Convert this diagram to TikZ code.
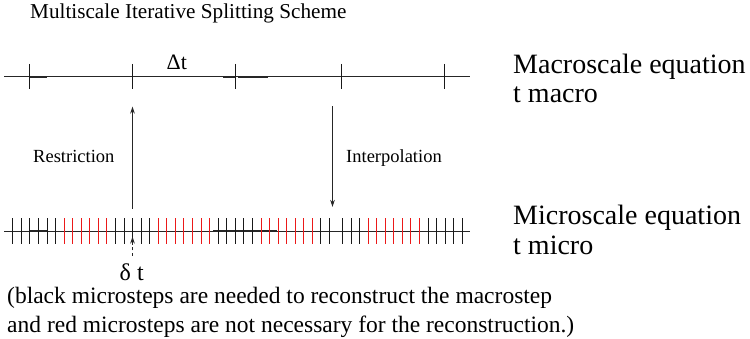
\documentclass[tikz,border=0pt]{standalone}
\usepackage{fontspec}
\setmainfont{Liberation Serif}
\usetikzlibrary{arrows.meta}
\definecolor{tickred}{RGB}{235,25,25}
\tikzset{
  axisline/.style={line width=0.9pt, black!85},
  thickseg/.style={line width=1.8pt, black!85},
  ticklineb/.style={line width=1pt, black!90},
  tickliner/.style={line width=1.5pt, tickred},
  txt/.style={inner sep=0pt, anchor=base west},
  arr/.style={line width=0.9pt, black!85, -{Stealth[length=7pt,width=4.5pt]}},
}
\begin{document}
\begin{tikzpicture}[x=1pt,y=-1pt]
\useasboundingbox (0,0) rectangle (750,339);
% title
\node[txt, font=\fontsize{21.2}{24}\selectfont] (title) at (30,18.5) {Multiscale Iterative Splitting Scheme};
% macro line
\coordinate (macL) at (4,76.7);
\coordinate (macR) at (470,76.7);
\draw[axisline] (macL) -- (macR);
\draw[thickseg] (29.3,76.7) -- (46.5,76.7);
\draw[thickseg] (223,76.7) -- (235,76.7);
\draw[thickseg] (238,76.7) -- (268,76.7);
\foreach \x in {29.5,132.5,235.5,341.5,444.5}
  \draw[ticklineb] (\x,64) -- (\x,89);
\node[txt, font=\fontsize{22}{24}\selectfont] (Dt) at (166.5,69.3) {Δt};
% micro line
\coordinate (micL) at (4,231);
\coordinate (micR) at (470,231);
\draw[axisline] (micL) -- (micR);
\draw[thickseg] (29.3,231) -- (46.5,231);
\draw[thickseg] (213,231) -- (277,231);
\foreach \i in {0,1,2,3,4,5,12,13,14,15,16,24,25,26,27,28,36,37}
  \draw[ticklineb] ({round(12.3+8.56*\i)+0.5},218.3) -- ({round(12.3+8.56*\i)+0.5},244.3);
\foreach \i in {6,7,8,9,10,11,17,18,19,20,21,22,23,29,30,31,32,33,34,35}
  \draw[tickliner] ({round(12.3+8.56*\i)+0.5},218.3) -- ({round(12.3+8.56*\i)+0.5},244.3);
\foreach \j in {0,1,2,10,11,12,13,14}
  \draw[ticklineb] ({round(342+8.55*\j)+0.5},218.3) -- ({round(342+8.55*\j)+0.5},244.3);
\foreach \j in {3,4,5,6,7,8,9}
  \draw[tickliner] ({round(342+8.55*\j)+0.5},218.3) -- ({round(342+8.55*\j)+0.5},244.3);
% right labels
\node[txt, font=\fontsize{28}{30}\selectfont] (macro1) at (513,73.3) {Macroscale equation};
\node[txt, font=\fontsize{28}{30}\selectfont] (macro2) at (513,103) {t macro};
\node[txt, font=\fontsize{28}{30}\selectfont] (micro1) at (513,225) {Microscale equation};
\node[txt, font=\fontsize{28}{30}\selectfont] (micro2) at (513,255) {t micro};
% arrows
\coordinate (rS) at (132.5,209);
\coordinate (rE) at (132.5,106.5);
\draw[arr] (rS) -- (rE);
\coordinate (iS) at (332.5,106.5);
\coordinate (iE) at (332.5,207);
\draw[arr] (iS) -- (iE);
\node[txt, font=\fontsize{18.5}{20}\selectfont] (restr) at (33,163) {Restriction};
\node[txt, font=\fontsize{18.5}{20}\selectfont] (interp) at (346,163) {Interpolation};
% delta t
\coordinate (dS) at (132.5,256);
\coordinate (dE) at (132.5,236.5);
\draw[arr, dashed, dash pattern=on 3pt off 2.5pt] (dS) -- (dE);
\node[txt, font=\fontsize{24}{26}\selectfont] (dt) at (119.5,280) {δ t};
% note
\node[txt, font=\fontsize{23.5}{26}\selectfont] (note1) at (7,304) {(black microsteps are needed to reconstruct the macrostep};
\node[txt, font=\fontsize{23.5}{26}\selectfont] (note2) at (7,332) {and red microsteps are not necessary for the reconstruction.)};
\end{tikzpicture}
\end{document}
